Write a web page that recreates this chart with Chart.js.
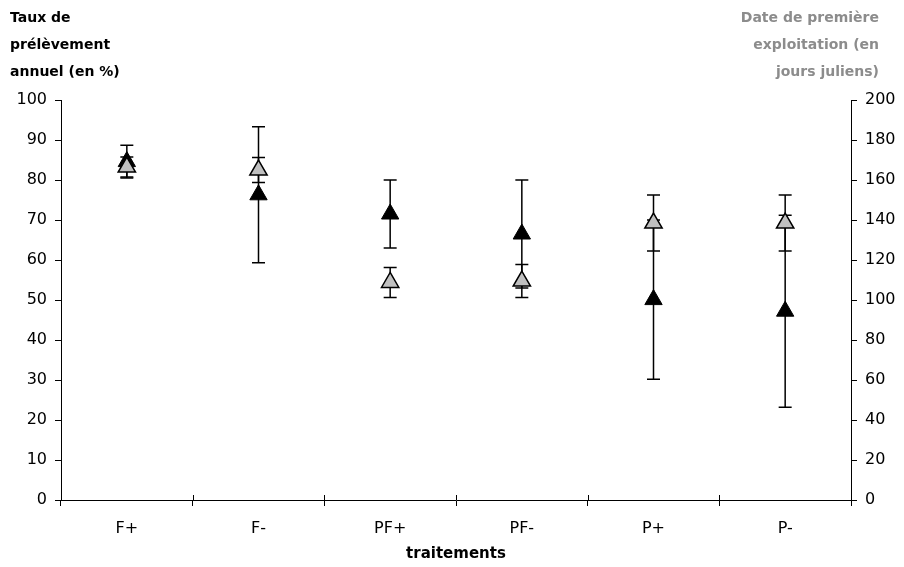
<!DOCTYPE html>
<html>
<head>
<meta charset="utf-8">
<script src="https://cdn.jsdelivr.net/npm/chart.js@4/dist/chart.umd.min.js"></script>
<style>
  body { margin: 0; background: #fff; }
  #wrap { width: 904px; height: 567px; }
</style>
</head>
<body>
<div id="wrap"><canvas id="chart" width="904" height="567"></canvas></div>
<script>
// Data
const categories = ['F+', 'F-', 'PF+', 'PF-', 'P+', 'P-'];
const tauxPrelevement = [84.6, 76.3, 71.5, 66.5, 50.1, 47.2];   // left axis, %
const tauxErreur = [4.1, 17, 8.5, 13.5, 19.9, 24];
const datePremiere = [166.5, 165, 108.8, 109.5, 138.5, 138.5];  // right axis, jours juliens
const dateErreur = [5, 6.3, 7.5, 8.2, 14, 14];
const leftTitle = ['Taux de', 'prélèvement', 'annuel (en %)'];
const rightTitle = ['Date de première', 'exploitation (en', 'jours juliens)'];

const FONT = '"DejaVu Sans", sans-serif';
const GREY_TEXT = '#8c8c8c';

// error bars drawn just before each dataset's points
const errorBars = {
  id: 'errorBars',
  beforeDatasetDraw(chart, args) {
    const ds = chart.data.datasets[args.index];
    if (!ds.errors) return;
    const meta = args.meta;
    const yScale = chart.scales[meta.yAxisID];
    const ctx = chart.ctx;
    ctx.save();
    ctx.strokeStyle = '#000';
    ctx.lineWidth = 1.5;
    meta.data.forEach((pt, i) => {
      const v = ds.data[i];
      const e = ds.errors[i];
      const yTop = yScale.getPixelForValue(v + e);
      const yBot = yScale.getPixelForValue(v - e);
      const x = pt.x;
      ctx.beginPath();
      ctx.moveTo(x, yTop); ctx.lineTo(x, yBot);
      ctx.moveTo(x - 6.5, yTop); ctx.lineTo(x + 6.5, yTop);
      ctx.moveTo(x - 6.5, yBot); ctx.lineTo(x + 6.5, yBot);
      ctx.stroke();
    });
    ctx.restore();
  }
};

// horizontal axis titles above the plot, plus the small upward ticks on the x axis
const axisTitles = {
  id: 'axisTitles',
  afterDraw(chart) {
    const ctx = chart.ctx;
    const x = chart.scales.x;
    const area = chart.chartArea;
    ctx.save();
    ctx.strokeStyle = '#000';
    ctx.lineWidth = 1;
    for (let i = 1; i < categories.length; i++) {
      const px = Math.round((x.getPixelForTick(i - 1) + x.getPixelForTick(i)) / 2) + 0.5;
      ctx.beginPath();
      ctx.moveTo(px, area.bottom);
      ctx.lineTo(px, area.bottom - 5);
      ctx.stroke();
    }
    ctx.font = 'bold 14px ' + FONT;
    ctx.textBaseline = 'middle';
    ctx.textAlign = 'left';
    ctx.fillStyle = '#000';
    leftTitle.forEach((t, i) => ctx.fillText(t, 10, 18 + i * 27));
    ctx.textAlign = 'right';
    ctx.fillStyle = GREY_TEXT;
    rightTitle.forEach((t, i) => ctx.fillText(t, 879, 18 + i * 27));
    ctx.restore();
  }
};

new Chart(document.getElementById('chart'), {
  type: 'line',
  data: {
    labels: categories,
    datasets: [
      {
        label: 'Date de première exploitation',
        data: datePremiere,
        errors: dateErreur,
        yAxisID: 'y2',
        showLine: false,
        pointStyle: 'triangle',
        pointRadius: 10,
        pointBackgroundColor: '#c0c0c0',
        pointBorderColor: '#000',
        pointBorderWidth: 1.5
      },
      {
        label: 'Taux de prélèvement annuel',
        data: tauxPrelevement,
        errors: tauxErreur,
        yAxisID: 'y',
        showLine: false,
        pointStyle: 'triangle',
        pointRadius: 10,
        pointBackgroundColor: '#000',
        pointBorderColor: '#000',
        pointBorderWidth: 1
      }
    ]
  },
  options: {
    responsive: false,
    animation: false,
    layout: { padding: { top: 100, left: 0, right: 0, bottom: 0 } },
    plugins: {
      legend: { display: false },
      tooltip: { enabled: false }
    },
    scales: {
      x: {
        type: 'category',
        offset: true,
        grid: { offset: true, drawOnChartArea: false, tickLength: 6, color: '#000' },
        border: { color: '#000', width: 1 },
        ticks: { color: '#000', font: { size: 16, family: FONT }, padding: 13, maxRotation: 0 },
        title: { display: true, text: 'traitements', color: '#000', font: { size: 15, weight: 'bold', family: FONT }, padding: { top: 1 } },
        afterFit(scale) { scale.height = 67; }
      },
      y: {
        position: 'left',
        min: 0,
        max: 100,
        ticks: { stepSize: 10, color: '#000', font: { size: 16, family: FONT }, padding: 8 },
        grid: { drawOnChartArea: false, tickLength: 6, color: '#000' },
        border: { color: '#000', width: 1 },
        afterFit(scale) { scale.width = 61; }
      },
      y2: {
        position: 'right',
        min: 0,
        max: 200,
        ticks: { stepSize: 20, color: '#000', font: { size: 16, family: FONT }, padding: 8 },
        grid: { drawOnChartArea: false, tickLength: 6, color: '#000' },
        border: { color: '#000', width: 1 },
        afterFit(scale) { scale.width = 53; }
      }
    }
  },
  plugins: [errorBars, axisTitles]
});
</script>
</body>
</html>
